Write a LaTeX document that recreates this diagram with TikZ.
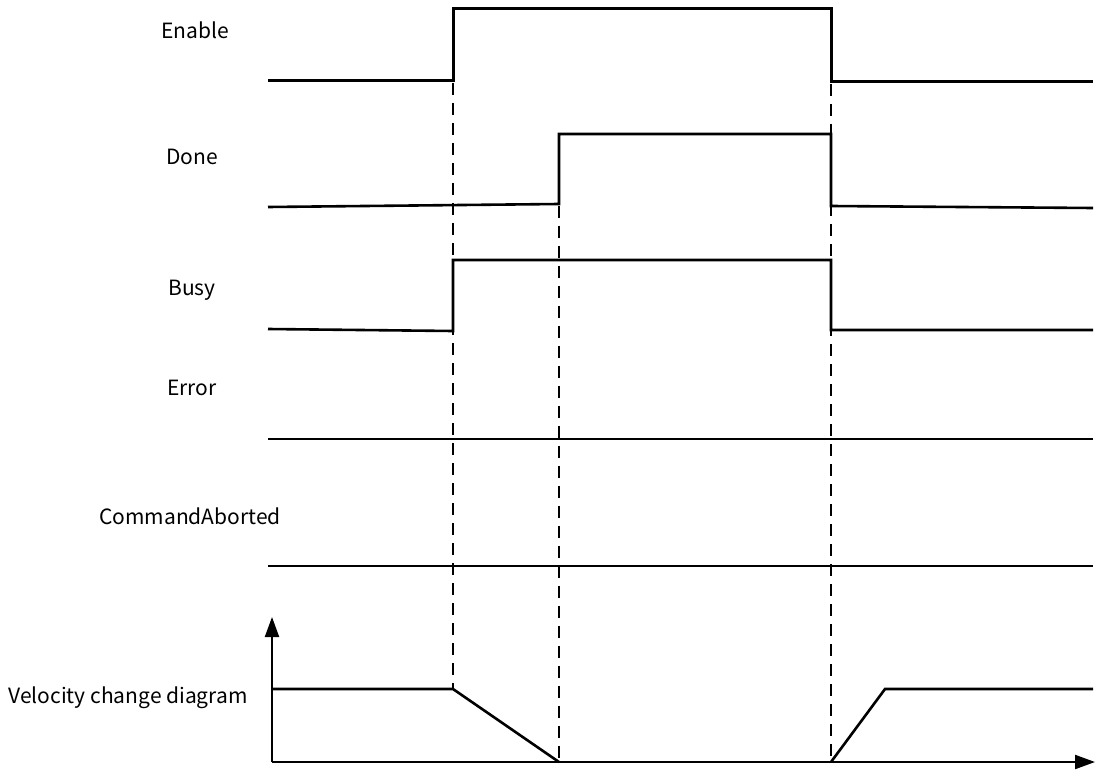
\documentclass[tikz,border=0pt]{standalone}
\usepackage{fontspec}
\setmainfont{Noto Sans CJK SC}
\usetikzlibrary{arrows.meta}
\tikzset{
  wave/.style={
    draw=black,
    line width=1.3pt,
    line join=miter
  },
  guide/.style={
    draw=black,
    line width=0.75pt,
    dash pattern=on 6pt off 4pt
  },
  axis/.style={
    draw=black,
    line width=1.1pt,
    -{Triangle[length=10pt,width=7pt]}
  },
  siglabel/.style={
    font=\fontsize{10.5}{12}\selectfont,
    text=black,
    inner sep=0pt
  }
}

\begin{document}
\begin{tikzpicture}[x=0.5pt,y=-0.5pt]
  \useasboundingbox (0,0) rectangle (1096,770);

  % signal names
  \node[siglabel] (lbl-enable) at (195,30) {Enable};
  \node[siglabel] (lbl-done) at (192,157) {Done};
  \node[siglabel] (lbl-busy) at (192,290) {Busy};
  \node[siglabel] (lbl-error) at (192,388) {Error};
  \node[siglabel] (lbl-abort) at (190,516) {CommandAborted};
  \node[siglabel] (lbl-velocity) at (128,698) {Velocity change diagram};

  % edge times
  \coordinate (t-start) at (453,0);
  \coordinate (t-done) at (559,0);
  \coordinate (t-stop) at (831,0);

  % waveforms
  \draw[wave,line width=1.5pt] (268,81) -- (453,81) -- (453,9) -- (831,9) -- (831,82) -- (1093,82);
  \draw[wave] (268,207) -- (559,204) -- (559,134) -- (831,134) -- (831,206) -- (1093,208);
  \draw[wave] (268,329) -- (453,331) -- (453,260) -- (831,260) -- (831,330) -- (1093,330);
  \draw[wave] (268,439) -- (1093,439);
  \draw[wave] (268,566) -- (1093,566);

  % velocity axes
  \coordinate (v-origin) at (272,762);
  \coordinate (v-top) at (272,617);
  \coordinate (v-right) at (1095,762);
  \draw[axis] (v-origin) -- (v-top);
  \draw[axis] (v-origin) -- (v-right);
  \draw[wave] (272,689) -- (453,689) -- (559,762);
  \draw[wave] (831,762) -- (885,689) -- (1093,689);

  % guides
  \draw[guide] (t-start |- 0,83) -- (t-start |- 0,689);
  \draw[guide] (t-done |- 0,206) -- (t-done |- 0,762);
  \draw[guide] (t-stop |- 0,84) -- (t-stop |- 0,762);
\end{tikzpicture}
\end{document}
